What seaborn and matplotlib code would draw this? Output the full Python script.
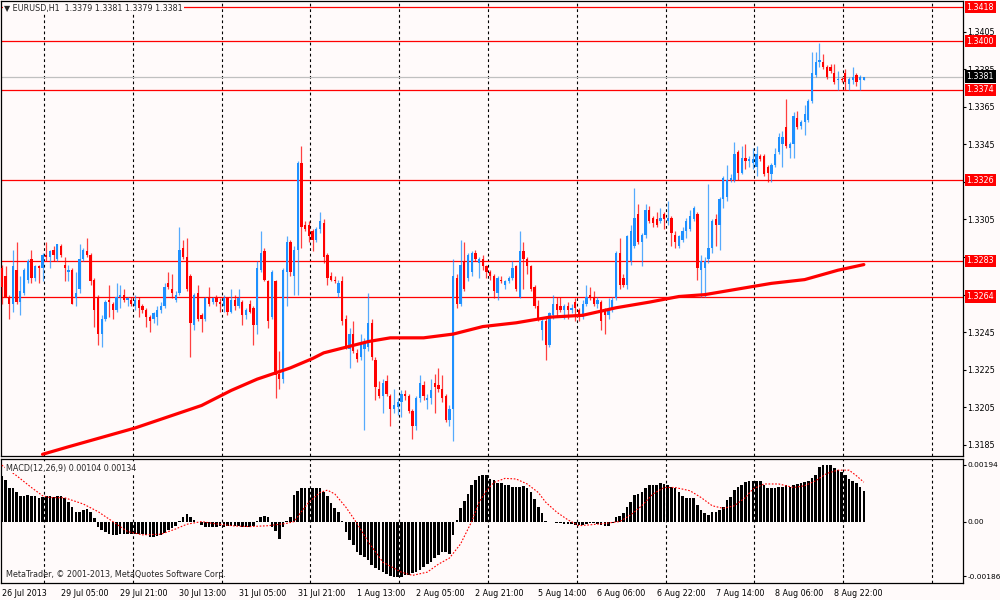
import numpy as np
import pandas as pd
import matplotlib
matplotlib.use("Agg")
import matplotlib.pyplot as plt
import matplotlib.transforms as mtransforms
import seaborn as sns

# EURUSD H1 candles, bar 0 = 26 Jul 2013 13:00
opens = [
    1.3279, 1.3275, 1.3264, 1.3260, 1.3278, 1.3261, 1.3266, 1.3273, 1.3284, 1.3274,
    1.3280, 1.3279, 1.3286, 1.3285, 1.3289, 1.3284, 1.3291, 1.3281, 1.3277, 1.3278,
    1.3263, 1.3268, 1.3284, 1.3288, 1.3286, 1.3273, 1.3264, 1.3244, 1.3252, 1.3262,
    1.3260, 1.3257, 1.3264, 1.3265, 1.3262, 1.3262, 1.3259, 1.3262, 1.3259, 1.3257,
    1.3253, 1.3252, 1.3253, 1.3257, 1.3259, 1.3271, 1.3268, 1.3262, 1.3266, 1.3290,
    1.3285, 1.3275, 1.3249, 1.3266, 1.3254, 1.3252, 1.3263, 1.3261, 1.3263, 1.3261,
    1.3259, 1.3263, 1.3256, 1.3262, 1.3259, 1.3261, 1.3254, 1.3260, 1.3258, 1.3249,
    1.3278, 1.3288, 1.3272, 1.3253, 1.3272, 1.3223, 1.3220, 1.3277, 1.3293, 1.3275,
    1.3289, 1.3335, 1.3302, 1.3302, 1.3299, 1.3294, 1.3300, 1.3303, 1.3286, 1.3275,
    1.3273, 1.3266, 1.3272, 1.3252, 1.3236, 1.3244, 1.3234, 1.3232, 1.3236, 1.3237,
    1.3250, 1.3230, 1.3215, 1.3211, 1.3219, 1.3211, 1.3204, 1.3205, 1.3208, 1.3212,
    1.3211, 1.3203, 1.3195, 1.3210, 1.3217, 1.3209, 1.3210, 1.3218, 1.3217, 1.3215,
    1.3211, 1.3198, 1.3204, 1.3274, 1.3260, 1.3283, 1.3274, 1.3277, 1.3287, 1.3282,
    1.3284, 1.3280, 1.3277, 1.3275, 1.3266, 1.3273, 1.3270, 1.3272, 1.3274, 1.3280,
    1.3264, 1.3288, 1.3284, 1.3280, 1.3269, 1.3259, 1.3246, 1.3251, 1.3238, 1.3254,
    1.3260, 1.3259, 1.3257, 1.3259, 1.3257, 1.3261, 1.3257, 1.3253, 1.3260, 1.3265,
    1.3264, 1.3260, 1.3261, 1.3257, 1.3254, 1.3257, 1.3263, 1.3287, 1.3274, 1.3270,
    1.3283, 1.3291, 1.3308, 1.3293, 1.3297, 1.3310, 1.3306, 1.3305, 1.3304, 1.3308,
    1.3304, 1.3306, 1.3297, 1.3291, 1.3294, 1.3299, 1.3300, 1.3305, 1.3308, 1.3278,
    1.3279, 1.3284, 1.3290, 1.3305, 1.3302, 1.3316, 1.3317, 1.3326, 1.3326, 1.3341,
    1.3330, 1.3338, 1.3336, 1.3335, 1.3333, 1.3339, 1.3339, 1.3333, 1.3329, 1.3334,
    1.3341, 1.3345, 1.3354, 1.3343, 1.3345, 1.3359, 1.3355, 1.3357, 1.3358, 1.3368,
    1.3382, 1.3389, 1.3389, 1.3386, 1.3386, 1.3383, 1.3379, 1.3380, 1.3383, 1.3377,
    1.3379, 1.3382, 1.3379, 1.3379,
]
highs = [
    1.3281, 1.3280, 1.3265, 1.3289, 1.3293, 1.3275, 1.3279, 1.3284, 1.3289, 1.3281,
    1.3281, 1.3287, 1.3293, 1.3289, 1.3291, 1.3292, 1.3292, 1.3285, 1.3281, 1.3279,
    1.3277, 1.3292, 1.3290, 1.3295, 1.3287, 1.3274, 1.3265, 1.3254, 1.3262, 1.3270,
    1.3261, 1.3271, 1.3270, 1.3268, 1.3264, 1.3264, 1.3265, 1.3264, 1.3260, 1.3258,
    1.3254, 1.3256, 1.3259, 1.3261, 1.3271, 1.3277, 1.3276, 1.3267, 1.3301, 1.3294,
    1.3295, 1.3276, 1.3266, 1.3270, 1.3255, 1.3264, 1.3269, 1.3264, 1.3265, 1.3263,
    1.3265, 1.3264, 1.3268, 1.3265, 1.3268, 1.3262, 1.3258, 1.3262, 1.3259, 1.3283,
    1.3299, 1.3290, 1.3273, 1.3278, 1.3273, 1.3235, 1.3279, 1.3296, 1.3294, 1.3291,
    1.3336, 1.3344, 1.3304, 1.3304, 1.3300, 1.3301, 1.3309, 1.3305, 1.3287, 1.3277,
    1.3275, 1.3273, 1.3275, 1.3254, 1.3247, 1.3251, 1.3236, 1.3244, 1.3242, 1.3266,
    1.3252, 1.3232, 1.3219, 1.3220, 1.3222, 1.3212, 1.3215, 1.3210, 1.3214, 1.3214,
    1.3212, 1.3204, 1.3211, 1.3222, 1.3219, 1.3212, 1.3220, 1.3223, 1.3226, 1.3222,
    1.3212, 1.3206, 1.3284, 1.3276, 1.3294, 1.3293, 1.3287, 1.3288, 1.3289, 1.3285,
    1.3286, 1.3281, 1.3278, 1.3276, 1.3275, 1.3275, 1.3273, 1.3275, 1.3283, 1.3281,
    1.3299, 1.3293, 1.3285, 1.3281, 1.3270, 1.3262, 1.3252, 1.3253, 1.3256, 1.3265,
    1.3264, 1.3264, 1.3260, 1.3261, 1.3260, 1.3263, 1.3258, 1.3262, 1.3270, 1.3269,
    1.3267, 1.3264, 1.3262, 1.3258, 1.3263, 1.3264, 1.3288, 1.3295, 1.3276, 1.3297,
    1.3302, 1.3322, 1.3313, 1.3298, 1.3313, 1.3312, 1.3307, 1.3309, 1.3311, 1.3309,
    1.3315, 1.3307, 1.3299, 1.3297, 1.3301, 1.3306, 1.3310, 1.3312, 1.3309, 1.3286,
    1.3285, 1.3324, 1.3305, 1.3308, 1.3317, 1.3328, 1.3334, 1.3329, 1.3346, 1.3342,
    1.3344, 1.3345, 1.3339, 1.3343, 1.3344, 1.3340, 1.3340, 1.3334, 1.3335, 1.3343,
    1.3351, 1.3352, 1.3369, 1.3346, 1.3362, 1.3363, 1.3358, 1.3366, 1.3369, 1.3394,
    1.3394, 1.3399, 1.3393, 1.3387, 1.3388, 1.3388, 1.3384, 1.3381, 1.3385, 1.3381,
    1.3386, 1.3383, 1.3382, 1.3381,
]
lows = [
    1.3260, 1.3264, 1.3252, 1.3256, 1.3260, 1.3254, 1.3265, 1.3271, 1.3271, 1.3272,
    1.3271, 1.3272, 1.3283, 1.3279, 1.3283, 1.3283, 1.3285, 1.3272, 1.3272, 1.3260,
    1.3259, 1.3266, 1.3283, 1.3285, 1.3270, 1.3248, 1.3238, 1.3237, 1.3251, 1.3253,
    1.3252, 1.3256, 1.3258, 1.3261, 1.3259, 1.3259, 1.3257, 1.3253, 1.3255, 1.3248,
    1.3245, 1.3250, 1.3249, 1.3255, 1.3258, 1.3268, 1.3263, 1.3261, 1.3265, 1.3284,
    1.3267, 1.3232, 1.3246, 1.3251, 1.3245, 1.3251, 1.3259, 1.3260, 1.3259, 1.3256,
    1.3256, 1.3254, 1.3255, 1.3257, 1.3258, 1.3249, 1.3252, 1.3255, 1.3238, 1.3244,
    1.3277, 1.3272, 1.3247, 1.3252, 1.3210, 1.3215, 1.3218, 1.3259, 1.3275, 1.3265,
    1.3265, 1.3290, 1.3299, 1.3293, 1.3288, 1.3293, 1.3298, 1.3282, 1.3270, 1.3272,
    1.3271, 1.3264, 1.3249, 1.3236, 1.3226, 1.3234, 1.3229, 1.3230, 1.3193, 1.3235,
    1.3230, 1.3209, 1.3210, 1.3202, 1.3211, 1.3195, 1.3202, 1.3201, 1.3200, 1.3209,
    1.3202, 1.3188, 1.3193, 1.3208, 1.3209, 1.3204, 1.3207, 1.3202, 1.3213, 1.3208,
    1.3197, 1.3195, 1.3187, 1.3258, 1.3259, 1.3267, 1.3272, 1.3275, 1.3283, 1.3274,
    1.3278, 1.3274, 1.3273, 1.3263, 1.3262, 1.3271, 1.3268, 1.3271, 1.3273, 1.3267,
    1.3263, 1.3268, 1.3276, 1.3267, 1.3258, 1.3251, 1.3241, 1.3230, 1.3237, 1.3252,
    1.3253, 1.3256, 1.3252, 1.3252, 1.3255, 1.3251, 1.3251, 1.3252, 1.3259, 1.3262,
    1.3259, 1.3258, 1.3246, 1.3244, 1.3252, 1.3256, 1.3262, 1.3268, 1.3269, 1.3268,
    1.3281, 1.3290, 1.3292, 1.3280, 1.3295, 1.3303, 1.3301, 1.3301, 1.3303, 1.3300,
    1.3302, 1.3291, 1.3290, 1.3290, 1.3293, 1.3295, 1.3299, 1.3304, 1.3273, 1.3264,
    1.3264, 1.3282, 1.3287, 1.3291, 1.3289, 1.3311, 1.3315, 1.3325, 1.3325, 1.3326,
    1.3329, 1.3332, 1.3333, 1.3332, 1.3328, 1.3336, 1.3328, 1.3325, 1.3325, 1.3333,
    1.3340, 1.3333, 1.3343, 1.3338, 1.3338, 1.3353, 1.3353, 1.3350, 1.3357, 1.3367,
    1.3381, 1.3386, 1.3385, 1.3380, 1.3383, 1.3377, 1.3374, 1.3378, 1.3374, 1.3374,
    1.3377, 1.3376, 1.3374, 1.3379,
]
closes = [
    1.3269, 1.3264, 1.3260, 1.3280, 1.3261, 1.3267, 1.3278, 1.3283, 1.3274, 1.3280,
    1.3279, 1.3286, 1.3285, 1.3288, 1.3286, 1.3292, 1.3286, 1.3279, 1.3278, 1.3260,
    1.3266, 1.3284, 1.3289, 1.3286, 1.3272, 1.3257, 1.3244, 1.3252, 1.3261, 1.3261,
    1.3257, 1.3264, 1.3265, 1.3262, 1.3263, 1.3260, 1.3262, 1.3258, 1.3257, 1.3253,
    1.3251, 1.3255, 1.3257, 1.3259, 1.3269, 1.3269, 1.3266, 1.3265, 1.3289, 1.3285,
    1.3268, 1.3250, 1.3265, 1.3252, 1.3252, 1.3263, 1.3260, 1.3263, 1.3261, 1.3260,
    1.3263, 1.3256, 1.3262, 1.3259, 1.3263, 1.3254, 1.3257, 1.3256, 1.3249, 1.3279,
    1.3287, 1.3273, 1.3251, 1.3277, 1.3222, 1.3220, 1.3278, 1.3293, 1.3277, 1.3289,
    1.3335, 1.3301, 1.3300, 1.3296, 1.3294, 1.3300, 1.3304, 1.3285, 1.3274, 1.3273,
    1.3272, 1.3271, 1.3251, 1.3237, 1.3244, 1.3235, 1.3231, 1.3238, 1.3240, 1.3250,
    1.3232, 1.3216, 1.3211, 1.3218, 1.3212, 1.3204, 1.3206, 1.3208, 1.3212, 1.3211,
    1.3203, 1.3195, 1.3210, 1.3218, 1.3211, 1.3210, 1.3214, 1.3216, 1.3215, 1.3210,
    1.3198, 1.3204, 1.3275, 1.3260, 1.3281, 1.3268, 1.3286, 1.3287, 1.3284, 1.3284,
    1.3280, 1.3277, 1.3275, 1.3267, 1.3274, 1.3272, 1.3272, 1.3274, 1.3279, 1.3268,
    1.3288, 1.3284, 1.3280, 1.3268, 1.3259, 1.3252, 1.3251, 1.3238, 1.3255, 1.3260,
    1.3257, 1.3257, 1.3259, 1.3257, 1.3258, 1.3258, 1.3253, 1.3260, 1.3264, 1.3263,
    1.3260, 1.3262, 1.3251, 1.3254, 1.3257, 1.3262, 1.3287, 1.3270, 1.3270, 1.3296,
    1.3299, 1.3306, 1.3293, 1.3297, 1.3310, 1.3304, 1.3303, 1.3302, 1.3306, 1.3305,
    1.3306, 1.3298, 1.3293, 1.3296, 1.3299, 1.3304, 1.3307, 1.3311, 1.3279, 1.3283,
    1.3283, 1.3290, 1.3304, 1.3302, 1.3316, 1.3327, 1.3326, 1.3327, 1.3340, 1.3330,
    1.3338, 1.3336, 1.3337, 1.3337, 1.3340, 1.3337, 1.3329, 1.3330, 1.3334, 1.3340,
    1.3349, 1.3349, 1.3344, 1.3345, 1.3360, 1.3354, 1.3357, 1.3361, 1.3368, 1.3383,
    1.3389, 1.3390, 1.3386, 1.3381, 1.3384, 1.3378, 1.3380, 1.3379, 1.3378, 1.3380,
    1.3381, 1.3378, 1.3381, 1.3381,
]

# moving average (thick red line), read at a few bars
ma_bars = [11, 18, 27, 36, 45, 54, 62, 69, 78, 84, 87, 93, 99, 105, 114, 122, 130,
           139, 148, 157, 166, 175, 183, 190, 199, 208, 217, 226, 233]
ma_vals = [1.3180, 1.3184, 1.3189, 1.3194, 1.3200, 1.3206, 1.3214, 1.3220, 1.3226,
           1.3231, 1.3234, 1.3237, 1.3240, 1.3242, 1.3242, 1.3244, 1.3248, 1.3250,
           1.3253, 1.3254, 1.3258, 1.3261, 1.3264, 1.3265, 1.3268, 1.3271, 1.3273,
           1.3278, 1.3281]

# MACD(12,26,9) main values, one per bar
macd_main = [
    0.00156, 0.00141, 0.00115, 0.00115, 0.00099, 0.00088, 0.00088, 0.00090, 0.00087, 0.00087,
    0.00081, 0.00083, 0.00086, 0.00087, 0.00085, 0.00086, 0.00086, 0.00079, 0.00068, 0.00051,
    0.00034, 0.00032, 0.00040, 0.00043, 0.00032, 0.00011, -0.00017, -0.00028, -0.00036, -0.00042,
    -0.00045, -0.00045, -0.00043, -0.00043, -0.00041, -0.00042, -0.00043, -0.00043, -0.00042, -0.00045,
    -0.00052, -0.00052, -0.00049, -0.00045, -0.00038, -0.00029, -0.00023, -0.00014, 0.00002, 0.00017,
    0.00025, 0.00017, 0.00006, -0.00001, -0.00013, -0.00017, -0.00017, -0.00017, -0.00017, -0.00016,
    -0.00017, -0.00016, -0.00016, -0.00016, -0.00016, -0.00017, -0.00017, -0.00020, -0.00014, 0.00001,
    0.00017, 0.00020, 0.00014, -0.00017, -0.00032, -0.00059, -0.00017, 0.00002, 0.00014, 0.00090,
    0.00104, 0.00113, 0.00115, 0.00116, 0.00116, 0.00116, 0.00116, 0.00102, 0.00088, 0.00062,
    0.00045, 0.00032, 0.00002, -0.00034, -0.00062, -0.00081, -0.00102, -0.00113, -0.00119, -0.00130,
    -0.00147, -0.00158, -0.00164, -0.00172, -0.00179, -0.00186, -0.00190, -0.00190, -0.00190, -0.00181,
    -0.00181, -0.00175, -0.00172, -0.00164, -0.00153, -0.00145, -0.00136, -0.00124, -0.00113, -0.00104,
    -0.00105, -0.00110, -0.00045, 0.00004, 0.00045, 0.00071, 0.00094, 0.00124, 0.00142, 0.00154,
    0.00160, 0.00160, 0.00145, 0.00142, 0.00133, 0.00130, 0.00124, 0.00124, 0.00119, 0.00119,
    0.00119, 0.00121, 0.00113, 0.00102, 0.00077, 0.00051, 0.00028, 0.00002, -0.00003, -0.00003,
    -0.00006, -0.00006, -0.00007, -0.00008, -0.00009, -0.00011, -0.00011, -0.00010, -0.00008, -0.00006,
    -0.00006, -0.00007, -0.00011, -0.00014, -0.00014, -0.00006, 0.00017, 0.00020, 0.00028, 0.00051,
    0.00068, 0.00090, 0.00093, 0.00102, 0.00116, 0.00124, 0.00126, 0.00126, 0.00130, 0.00128,
    0.00124, 0.00119, 0.00113, 0.00102, 0.00088, 0.00079, 0.00079, 0.00079, 0.00056, 0.00040,
    0.00028, 0.00023, 0.00032, 0.00034, 0.00040, 0.00051, 0.00073, 0.00085, 0.00107, 0.00119,
    0.00126, 0.00136, 0.00138, 0.00138, 0.00138, 0.00138, 0.00124, 0.00115, 0.00115, 0.00115,
    0.00119, 0.00119, 0.00124, 0.00119, 0.00124, 0.00128, 0.00130, 0.00136, 0.00138, 0.00147,
    0.00160, 0.00186, 0.00192, 0.00194, 0.00192, 0.00184, 0.00176, 0.00170, 0.00158, 0.00145,
    0.00138, 0.00130, 0.00118, 0.00104,
]

# MACD signal line (red dotted), read at a few bars
sig_bars = [0, 4, 8, 11, 13, 17, 22, 26, 30, 34, 38, 43, 47, 50, 54, 58, 63, 67, 72, 77,
            79, 81, 83, 86, 88, 90, 93, 96, 99, 103, 108, 111, 115, 118, 121, 124, 127,
            129, 131, 133, 136, 139, 142, 145, 147, 150, 153, 156, 159, 163, 167, 170,
            173, 176, 179, 182, 186, 189, 192, 195, 198, 201, 203, 206, 210, 214, 217,
            220, 223, 226, 229, 231, 233]
sig_vals = [0.00192, 0.00156, 0.00116, 0.00088, 0.00082, 0.00081, 0.00060, 0.00034, 0.0,
            -0.00034, -0.00045, -0.00043, -0.00025, -0.00009, 0.0, -0.00008, -0.00015,
            -0.00017, -0.00014, -0.00006, 0.0, 0.00034, 0.00066, 0.00099, 0.00107, 0.00094,
            0.00049, -0.00006, -0.00068, -0.00138, -0.00172, -0.00183, -0.00172, -0.00145,
            -0.00124, -0.00076, 0.0, 0.00066, 0.00105, 0.00133, 0.00147, 0.00145, 0.00128,
            0.00099, 0.00066, 0.00032, 0.00006, -0.00014, -0.00011, -0.00006, 0.0, 0.00023,
            0.00054, 0.00094, 0.00116, 0.00116, 0.00105, 0.00082, 0.00054, 0.00045, 0.00054,
            0.00082, 0.00111, 0.00128, 0.00128, 0.00116, 0.00122, 0.00139, 0.00164, 0.00175,
            0.00175, 0.00156, 0.00134]

levels = [1.3418, 1.3400, 1.3374, 1.3326, 1.3283, 1.3264]
bid = 1.3381
price_ticks = [1.3405, 1.3385, 1.3365, 1.3345, 1.3325, 1.3305, 1.3285, 1.3265,
               1.3245, 1.3225, 1.3205, 1.3185]
# these scale labels sit right under the level boxes and are hidden by them
hidden_ticks = [1.3325, 1.3285, 1.3265]
macd_ticks = [0.00194, 0.0, -0.00186]
macd_tick_labels = ["0.00194", "0.00", "-0.00186"]
tick_bars = [0, 16, 32, 48, 64, 80, 96, 112, 128, 145, 161, 177, 193, 209, 225]
tick_labels = ["26 Jul 2013", "29 Jul 05:00", "29 Jul 21:00", "30 Jul 13:00",
               "31 Jul 05:00", "31 Jul 21:00", "1 Aug 13:00", "2 Aug 05:00",
               "2 Aug 21:00", "5 Aug 14:00", "6 Aug 06:00", "6 Aug 22:00",
               "7 Aug 14:00", "8 Aug 06:00", "8 Aug 22:00"]
day_bars = [11, 35, 59, 83, 107, 131, 155, 179, 203, 227, 251]

BG = "#FFFAFA"
BULL = "#1E90FF"
BEAR = "#FF0000"
FS = 5.8

sns.set_style("white")
plt.rcParams["font.family"] = ["DejaVu Sans"]
plt.rcParams["axes.linewidth"] = 0.8

df = pd.DataFrame({"bar": np.arange(len(closes)), "open": opens, "high": highs,
                   "low": lows, "close": closes})

fig = plt.figure(figsize=(10, 6), dpi=100, facecolor=BG)
ax = fig.add_axes([0.001, 0.24, 0.962, 0.7583], facecolor=BG)
ax2 = fig.add_axes([0.001, 0.0283, 0.962, 0.2072], facecolor=BG, sharex=ax)

xlim = (-0.22, 259.8)

# day separators
for a in (ax, ax2):
    for d in day_bars:
        a.axvline(d + 0.4, color="black", lw=0.8, ls=(0, (2.5, 2.5)), zorder=1)
    for s in a.spines.values():
        s.set_color("black")
        s.set_linewidth(0.9)

# horizontal levels
for lv in levels:
    ax.axhline(lv, color="red", lw=0.9, zorder=2)
ax.axhline(bid, color="#C0C0C0", lw=0.9, zorder=2)

# candles
up = df["close"] >= df["open"]
for is_up, color in [(True, BULL), (False, BEAR)]:
    d = df[up == is_up]
    ax.vlines(d["bar"], d["low"], d["high"], color=color, linewidth=0.9,
              alpha=0.75, zorder=3)
    body = (d["close"] - d["open"]).abs().clip(lower=0.00003)
    ax.bar(d["bar"], body, bottom=d[["open", "close"]].min(axis=1), width=0.62,
           color=color, linewidth=0, zorder=4)

# moving average
sns.lineplot(x=ma_bars, y=ma_vals, ax=ax, color="red", linewidth=2.3, zorder=5)

ax.set_xlim(*xlim)
ax.set_ylim(1.31791, 1.34213)
ax.yaxis.tick_right()
ax.set_yticks(price_ticks)
ax.set_yticklabels(["" if t in hidden_ticks else f"{t:.4f}" for t in price_ticks])
ax.tick_params(axis="y", length=2.2, width=0.8, pad=1.0, labelsize=FS, colors="black")
ax.tick_params(axis="x", bottom=False, labelbottom=False)
ax.set_xlabel("")
ax.set_ylabel("")

# price boxes on the right axis
trans = mtransforms.blended_transform_factory(ax.transAxes, ax.transData)
for lv in levels:
    ax.text(1.0035, lv, f"{lv:.4f}", transform=trans, ha="left", va="center",
            color="white", fontsize=FS, zorder=6,
            bbox=dict(boxstyle="square,pad=0.22", fc="red", ec="none"))
ax.text(1.0035, bid, f"{bid:.4f}", transform=trans, ha="left", va="center",
        color="white", fontsize=FS, zorder=6,
        bbox=dict(boxstyle="square,pad=0.22", fc="black", ec="none"))

ax.text(0.003, 0.993, "\u25BC EURUSD,H1  1.3379 1.3381 1.3379 1.3381",
        transform=ax.transAxes, ha="left", va="top", fontsize=FS, zorder=7,
        bbox=dict(boxstyle="square,pad=0.15", fc=BG, ec="none"))

# MACD panel
ax2.bar(np.arange(len(macd_main)), macd_main, width=0.7, color="black",
        linewidth=0, zorder=3)
sns.lineplot(x=sig_bars, y=sig_vals, ax=ax2, color="red", linewidth=0.8,
             linestyle=(0, (1.5, 1.5)), zorder=4)
ax2.set_xlim(*xlim)
ax2.set_ylim(-0.00209, 0.00214)
ax2.yaxis.tick_right()
ax2.set_yticks(macd_ticks)
ax2.set_yticklabels(macd_tick_labels)
ax2.tick_params(axis="y", length=2.2, width=0.8, pad=0.8, labelsize=5.3, colors="black")
ax2.set_xticks(tick_bars)
ax2.set_xticklabels(tick_labels, ha="left")
ax2.tick_params(axis="x", length=2.2, width=0.8, pad=2, labelsize=FS, colors="black")
ax2.set_xlabel("")
ax2.set_ylabel("")

ax2.text(0.005, 0.96, "MACD(12,26,9) 0.00104 0.00134", transform=ax2.transAxes,
         ha="left", va="top", fontsize=FS, zorder=7,
         bbox=dict(boxstyle="square,pad=0.1", fc=BG, ec="none"))
ax2.text(0.005, 0.03, "MetaTrader, \u00A9 2001-2013, MetaQuotes Software Corp.",
         transform=ax2.transAxes, ha="left", va="bottom", fontsize=FS, zorder=7)

fig.savefig("out.png", dpi=100, facecolor=BG)
